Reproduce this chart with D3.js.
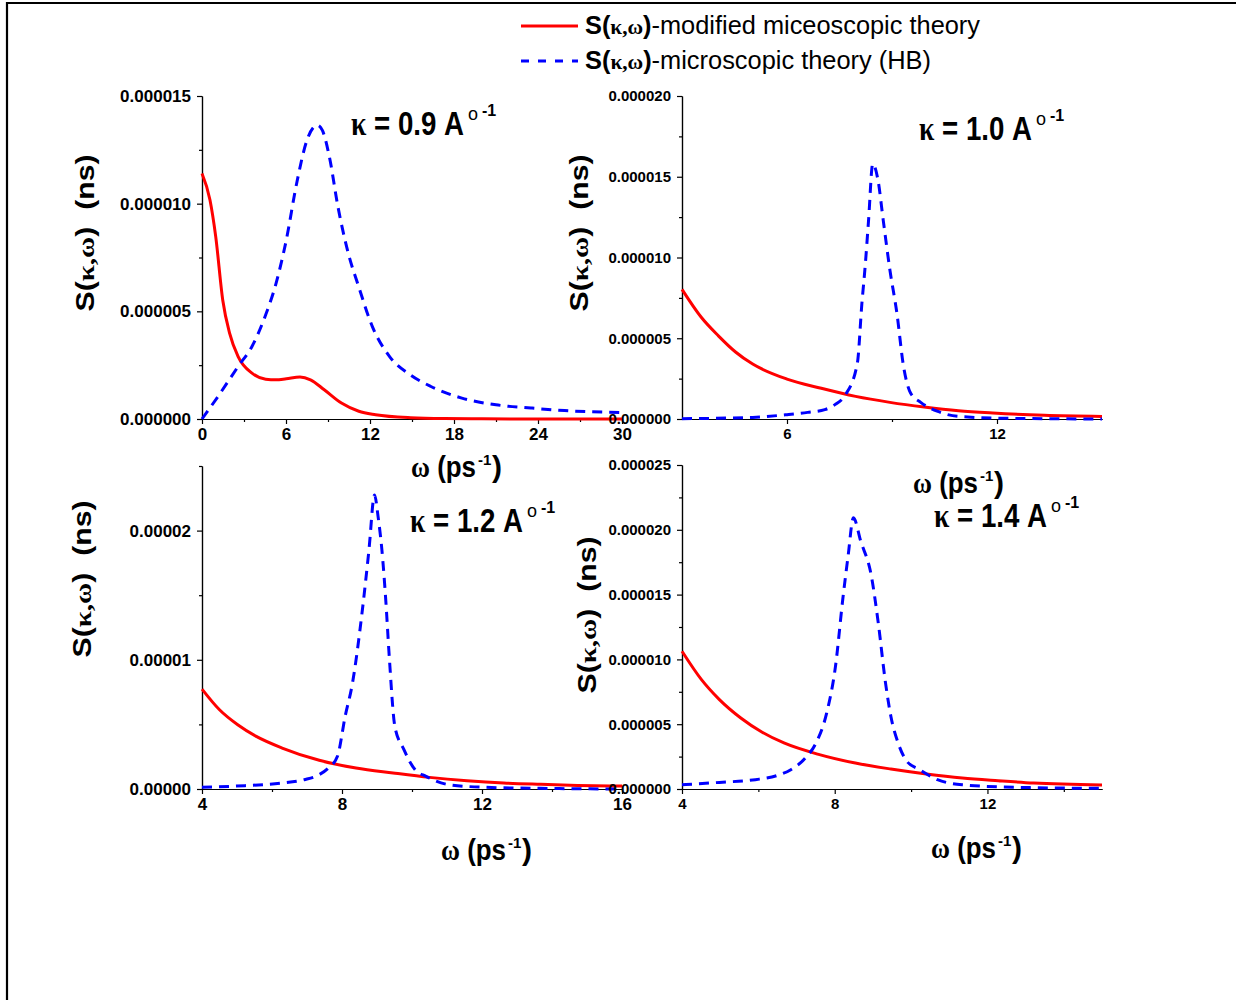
<!DOCTYPE html>
<html>
<head>
<script src="https://cdnjs.cloudflare.com/ajax/libs/d3/7.8.5/d3.min.js"></script>
<style>
  body { margin: 0; background: #fff; }
  .axis path, .axis line { stroke: #000; stroke-width: 1.2; }
  .axis text { font-family: Arial, "Liberation Sans", sans-serif; font-weight: bold; fill: #000; }
  .modified { fill: none; stroke: #ff0000; stroke-width: 3; }
  .hb { fill: none; stroke: #0000ff; stroke-width: 3; stroke-dasharray: 10,7; }
</style>
</head>
<body>
<svg width="1236" height="1000"></svg>
<script>
// S(k,w) values are in units of 1e-6 ns, omega in ps^-1

// k = 0.9
const k09Omega    = [0, 0.57, 0.98, 1.48, 1.97, 2.58, 3.57, 4.55, 5.29, 6.02, 7.0, 7.75, 8.73, 9.96, 11.2, 12.4, 14.9, 17.3, 20, 25, 30];
const k09Modified = [11.4, 10.17, 8.47, 5.53, 3.99, 2.9, 2.13, 1.85, 1.82, 1.87, 1.95, 1.82, 1.36, 0.74, 0.36, 0.2, 0.06, 0.02, 0.01, 0, 0];
const k09HbOmega  = [0, 1.23, 2.58, 3.57, 4.55, 5.29, 6.02, 6.76, 7.5, 8.24, 8.6, 9.1, 9.71, 10.45, 11.19, 12.17, 13.4, 14.88, 16.35, 18.56, 21.0, 23.5, 25.9, 30];
const k09Hb       = [0, 1.13, 2.44, 3.37, 4.84, 6.3, 8.31, 10.94, 12.95, 13.64, 13.4, 12.17, 9.86, 7.69, 6.15, 4.29, 2.9, 2.05, 1.51, 0.97, 0.66, 0.51, 0.39, 0.3];

// k = 1.0
const k10Omega    = [3, 3.55, 4.04, 4.53, 5.02, 6, 6.98, 7.96, 8.94, 9.92, 10.9, 11.88, 13.35, 15];
const k10Modified = [8.03, 6.3, 5.15, 4.15, 3.4, 2.47, 1.9, 1.40, 1.03, 0.74, 0.51, 0.37, 0.23, 0.16];
const k10HbOmega  = [3, 5.02, 6, 6.59, 7.08, 7.37, 7.67, 8.01, 8.14, 8.24, 8.33, 8.45, 8.6, 8.75, 8.94, 9.14, 9.33, 9.53, 9.82, 10.31, 10.9, 12.37, 15];
const k10Hb       = [0.02, 0.1, 0.27, 0.41, 0.58, 0.89, 1.5, 3.46, 7.17, 9.64, 12.3, 15.8, 14.79, 12.3, 9.23, 6.55, 3.25, 1.61, 1.03, 0.47, 0.16, 0.04, 0];

// k = 1.2
const k12Omega    = [4, 4.5, 5.02, 5.55, 6.29, 7.35, 8.4, 9.46, 10.5, 11.57, 12.62, 13.68, 14.73, 16];
const k12Modified = [7.73, 6.13, 4.97, 4.07, 3.17, 2.22, 1.62, 1.24, 0.9, 0.64, 0.46, 0.36, 0.28, 0.23];
const k12HbOmega  = [4, 5.23, 6.29, 6.92, 7.35, 7.61, 7.87, 8.09, 8.3, 8.56, 8.77, 8.93, 9.03, 9.14, 9.25, 9.35, 9.51, 9.77, 10.09, 10.4, 11.04, 12.1, 13.68, 16];
const k12Hb       = [0.13, 0.26, 0.46, 0.72, 1.11, 1.62, 2.53, 5.62, 8.2, 13.35, 18.5, 22.76, 21.1, 18.5, 14.64, 10.26, 4.85, 3.04, 1.49, 0.98, 0.34, 0.13, 0.05, 0];

// k = 1.4
const k14Omega    = [4, 4.51, 4.98, 5.54, 6.1, 6.67, 7.6, 8.54, 9.47, 10.4, 11.34, 12.28, 13.21, 15];
const k14Modified = [10.63, 8.44, 6.9, 5.48, 4.38, 3.55, 2.65, 2.0, 1.54, 1.16, 0.85, 0.64, 0.46, 0.31];
const k14HbOmega  = [4, 4.98, 5.92, 6.48, 6.85, 7.23, 7.51, 7.79, 8.02, 8.21, 8.35, 8.49, 8.68, 8.96, 9.14, 9.33, 9.47, 9.66, 9.89, 10.22, 10.69, 11.34, 12.75, 15];
const k14Hb       = [0.33, 0.51, 0.72, 1.03, 1.49, 2.39, 3.55, 5.87, 9.47, 14.62, 17.97, 20.93, 19.13, 16.43, 12.82, 8.19, 5.61, 3.55, 2.14, 1.49, 0.72, 0.33, 0.13, 0.05];

// axis ticks
const k09XTicks = [0, 6, 12, 18, 24, 30], k09XMinor = [3, 9, 15, 21, 27];
const k09YTicks = [0, 5, 10, 15],         k09YMinor = [2.5, 7.5, 12.5];
const k10XTicks = [6, 12],                k10XMinor = [9];
const k10YTicks = [0, 5, 10, 15, 20],     k10YMinor = [2.5, 7.5, 12.5, 17.5];
const k12XTicks = [4, 8, 12, 16],         k12XMinor = [6, 10, 14];
const k12YTicks = [0, 10, 20],            k12YMinor = [5, 15, 25];
const k14XTicks = [4, 8, 12],             k14XMinor = [6, 10, 14];
const k14YTicks = [0, 5, 10, 15, 20, 25], k14YMinor = [2.5, 7.5, 12.5, 17.5, 22.5];

const kappaLabels = ["0.9", "1.0", "1.2", "1.4"];
const legendLabels = ["-modified miceoscopic theory", "-microscopic theory (HB)"];

const sans = "Arial, 'Liberation Sans', sans-serif";
const serif = "'Times New Roman', 'Liberation Serif', 'DejaVu Serif', serif";

const svg = d3.select("svg");

// frame (top and left edges only)
svg.append("line").attr("x1", 6).attr("y1", 3).attr("x2", 1236).attr("y2", 3)
    .attr("stroke", "#000").attr("stroke-width", 2.2);
svg.append("line").attr("x1", 7).attr("y1", 2).attr("x2", 7).attr("y2", 1000)
    .attr("stroke", "#000").attr("stroke-width", 2.2);

// text made of several tspans
function richText(x, y, parts, opts = {}) {
    const t = svg.append("text")
        .attr("transform", `translate(${x},${y})` + (opts.rotate ? ` rotate(${opts.rotate})` : ""))
        .attr("text-anchor", opts.anchor || "start")
        .style("font-family", sans)
        .attr("fill", "#000");
    parts.forEach(p => {
        t.append("tspan")
            .text(p.t)
            .attr("dy", p.dy || 0)
            .style("font-size", p.size + "px")
            .style("font-weight", p.weight || "bold")
            .style("font-family", p.serif ? serif : sans);
    });
    if (opts.length) t.attr("textLength", opts.length).attr("lengthAdjust", "spacingAndGlyphs");
    return t;
}

const panels = [
    { omega: k09Omega, mod: k09Modified, hbOmega: k09HbOmega, hb: k09Hb,
      xDomain: [0, 30], yDomain: [0, 15], xTicks: k09XTicks, xMinor: k09XMinor, yTicks: k09YTicks, yMinor: k09YMinor,
      left: 202, right: 622, top: 96, bottom: 419, digits: 6, tickSize: 17,
      kappa: kappaLabels[0], kx: 351, ky: 135, wx: 411, wy: 477, sx: 94, sy: 233 },
    { omega: k10Omega, mod: k10Modified, hbOmega: k10HbOmega, hb: k10Hb,
      xDomain: [3, 15], yDomain: [0, 20], xTicks: k10XTicks, xMinor: k10XMinor, yTicks: k10YTicks, yMinor: k10YMinor,
      left: 682, right: 1102, top: 96, bottom: 419, digits: 6, tickSize: 15,
      kappa: kappaLabels[1], kx: 919, ky: 140, wx: 913, wy: 493, sx: 588, sy: 233 },
    { omega: k12Omega, mod: k12Modified, hbOmega: k12HbOmega, hb: k12Hb,
      xDomain: [4, 16], yDomain: [0, 25], xTicks: k12XTicks, xMinor: k12XMinor, yTicks: k12YTicks, yMinor: k12YMinor,
      left: 202, right: 622, top: 466, bottom: 789, digits: 5, tickSize: 17,
      kappa: kappaLabels[2], kx: 410, ky: 532, wx: 441, wy: 860, sx: 91, sy: 579 },
    { omega: k14Omega, mod: k14Modified, hbOmega: k14HbOmega, hb: k14Hb,
      xDomain: [4, 15], yDomain: [0, 25], xTicks: k14XTicks, xMinor: k14XMinor, yTicks: k14YTicks, yMinor: k14YMinor,
      left: 682, right: 1102, top: 465, bottom: 789, digits: 6, tickSize: 15,
      kappa: kappaLabels[3], kx: 934, ky: 527, wx: 931, wy: 858, sx: 596, sy: 615 }
];

panels.forEach(p => {
    const x = d3.scaleLinear().domain(p.xDomain).range([p.left, p.right]);
    const y = d3.scaleLinear().domain(p.yDomain).range([p.bottom, p.top]);
    const fmt = d => d3.format("." + p.digits + "f")(d * 1e-6);

    // minor ticks
    svg.append("g").attr("class", "axis")
        .attr("transform", `translate(0,${p.bottom})`)
        .call(d3.axisBottom(x).tickValues(p.xMinor).tickSize(3).tickSizeOuter(0).tickFormat(""));
    svg.append("g").attr("class", "axis")
        .attr("transform", `translate(${p.left},0)`)
        .call(d3.axisLeft(y).tickValues(p.yMinor).tickSize(3).tickSizeOuter(0).tickFormat(""));

    // major ticks
    const xa = svg.append("g").attr("class", "axis")
        .attr("transform", `translate(0,${p.bottom})`)
        .call(d3.axisBottom(x).tickValues(p.xTicks).tickSize(5).tickPadding(4).tickSizeOuter(0));
    xa.selectAll("text").style("font-size", p.tickSize + "px");
    const ya = svg.append("g").attr("class", "axis")
        .attr("transform", `translate(${p.left},0)`)
        .call(d3.axisLeft(y).tickValues(p.yTicks).tickSize(5).tickPadding(6).tickSizeOuter(0).tickFormat(fmt));
    ya.selectAll("text").style("font-size", p.tickSize + "px");

    // curves
    const line = d3.line().x(d => x(d[0])).y(d => y(d[1])).curve(d3.curveMonotoneX);
    svg.append("path").attr("class", "modified")
        .datum(d3.zip(p.omega, p.mod)).attr("d", line);
    svg.append("path").attr("class", "hb")
        .datum(d3.zip(p.hbOmega, p.hb)).attr("d", line);

    // kappa label with its superscripts
    richText(p.kx, p.ky, [
        { t: "\u03ba", size: 34, serif: true },
        { t: " = " + p.kappa + " A", size: 34 }
    ], { length: 113 });
    richText(p.kx + 117, p.ky - 15, [{ t: "o", size: 18, weight: "normal" }]);
    richText(p.kx + 131, p.ky - 19, [{ t: "-1", size: 16 }]);

    // x title
    richText(p.wx, p.wy, [
        { t: "\u03c9", size: 30, serif: true },
        { t: " (ps", size: 30 }
    ], { length: 65 });
    richText(p.wx + 67, p.wy - 12, [{ t: "-1", size: 15 }]);
    richText(p.wx + 81, p.wy, [{ t: ")", size: 30 }]);

    // y title
    richText(p.sx, p.sy, [
        { t: "S(", size: 25 },
        { t: "\u03ba,\u03c9", size: 24, serif: true },
        { t: ")\u00a0\u00a0(ns)", size: 25 }
    ], { rotate: -90, anchor: "middle", length: 157 });
});

// legend
const legendY = [26, 61];
const legendLen = [395, 346];
legendLabels.forEach((lab, i) => {
    svg.append("line")
        .attr("class", i === 0 ? "modified" : "hb")
        .attr("x1", 521).attr("x2", 578)
        .attr("y1", legendY[i]).attr("y2", legendY[i])
        .style("stroke-dasharray", i === 0 ? null : "8,9");
    richText(585, legendY[i] + 8, [
        { t: "S(", size: 25 },
        { t: "\u03ba,\u03c9", size: 21, serif: true },
        { t: ")", size: 25 },
        { t: lab, size: 25, weight: "normal" }
    ], { length: legendLen[i] });
});
</script>
</body>
</html>
